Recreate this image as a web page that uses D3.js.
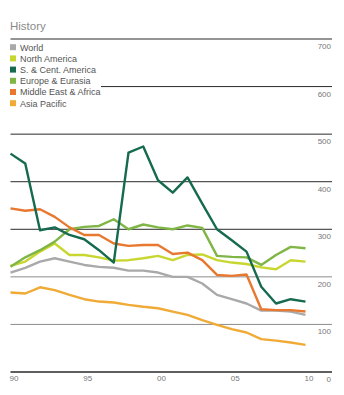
<!DOCTYPE html>
<html>
<head>
<meta charset="utf-8">
<script src="https://cdn.jsdelivr.net/npm/d3@7"></script>
<style>
  body { margin: 0; background: #fff; }
  svg { display: block; font-family: "Liberation Sans", Arial, sans-serif; }
</style>
</head>
<body>
<div class="chart"></div>
<script>
const width = 344
const height = 395

const years = d3.range(1990, 2011)

const world        = [208, 218, 231, 238, 231, 224, 220, 218, 212, 212, 208, 199, 199, 185, 161, 152, 143, 128, 128, 126, 119]
const northAmerica = [222, 231, 252, 269, 245, 245, 240, 233, 234, 238, 243, 234, 245, 246, 234, 229, 226, 219, 215, 234, 231]
const sCentAmerica = [458, 437, 297, 303, 287, 278, 255, 229, 460, 473, 402, 376, 408, 353, 299, 276, 252, 178, 143, 152, 147]
const europe       = [220, 240, 255, 273, 299, 304, 306, 320, 299, 309, 303, 299, 307, 302, 243, 241, 240, 224, 245, 262, 259]
const middleEast   = [343, 338, 341, 325, 303, 287, 287, 269, 264, 266, 266, 247, 250, 234, 203, 201, 204, 131, 129, 129, 126]
const asiaPacific  = [166, 164, 177, 171, 161, 152, 147, 145, 140, 136, 133, 126, 119, 108,  98,  89,  82,  68,  65,  61,  56]

const yTicks = [0, 100, 200, 300, 400, 500, 600, 700]
const xTicks = [1990, 1995, 2000, 2005, 2010]

// drawn back to front, the dark green one on top
const series = [
    {name: "World", color: "#a9a9a9", values: world},
    {name: "North America", color: "#c8d630", values: northAmerica},
    {name: "Europe & Eurasia", color: "#7fb646", values: europe},
    {name: "Middle East & Africa", color: "#e8782f", values: middleEast},
    {name: "Asia Pacific", color: "#f0aa36", values: asiaPacific},
    {name: "S. & Cent. America", color: "#156a4f", values: sCentAmerica},
]
const legendOrder = ["World", "North America", "S. & Cent. America", "Europe & Eurasia", "Middle East & Africa", "Asia Pacific"]

const left = 10.5
const right = 332

const xScale = d3.scaleLinear()
    .domain([1990, 2010])
    .range([left, 305.5])

const yScale = d3.scaleLinear()
    .domain([0, 700])
    .range([371.5, 38.5])

const svg = d3.select(".chart")
    .append("svg")
    .attr("width", width)
    .attr("height", height)

// title
svg.append("text")
    .attr("x", 10)
    .attr("y", 30)
    .text("History")
    .style("fill", "#8a8a8a")
    .style("font-size", "11.5px")

// horizontal grid + right hand labels
const grid = svg.append("g")
    .attr("transform", `translate(${right}, 0)`)
    .call(d3.axisLeft(yScale).tickValues(yTicks).tickSize(right - left).tickFormat(d3.format("d")))

grid.select("path.domain").remove()
grid.selectAll(".tick line")
    .attr("stroke", d => (d == 100 || d == 200) ? "#8c8c8c" : "#2a2a2a")
    .attr("stroke-width", d => d == 0 ? 1.3 : 1)
grid.selectAll(".tick text")
    .attr("x", -1)
    .attr("dy", "1.25em")
    .attr("text-anchor", "end")
    .style("fill", "#777")
    .style("font-size", "8px")
    .style("font-family", "'Liberation Sans', Arial, sans-serif")

// year labels under the base line
svg.append("g")
    .selectAll("text")
    .data(xTicks)
    .enter().append("text")
        .attr("x", d => xScale(d) - 1)
        .attr("y", 381)
        .text(d => String(d).slice(2))
        .style("fill", "#777")
        .style("font-size", "8px")

const line = d3.line()
    .x((d, i) => xScale(years[i]))
    .y(d => yScale(d))

svg.append("g")
    .selectAll("path")
    .data(series)
    .enter().append("path")
        .attr("d", d => line(d.values))
        .attr("fill", "none")
        .attr("stroke", d => d.color)
        .attr("stroke-width", 2.4)
        .attr("stroke-linejoin", "round")

// legend sits on a white box that hides the 600 gridline
const legend = svg.append("g")
legend.append("rect")
    .attr("x", 0)
    .attr("y", 40)
    .attr("width", 101)
    .attr("height", 70)
    .attr("fill", "#fff")

const items = legend.selectAll("g")
    .data(legendOrder.map(n => series.find(s => s.name == n)))
    .enter().append("g")
        .attr("transform", (d, i) => `translate(10, ${47.2 + i * 11.2})`)

items.append("rect")
    .attr("x", 0)
    .attr("y", -3)
    .attr("width", 6)
    .attr("height", 6)
    .attr("fill", d => d.color)

items.append("text")
    .attr("x", 10)
    .attr("y", 3.3)
    .text(d => d.name)
    .style("fill", "#555")
    .style("font-size", "9px")
</script>
</body>
</html>
